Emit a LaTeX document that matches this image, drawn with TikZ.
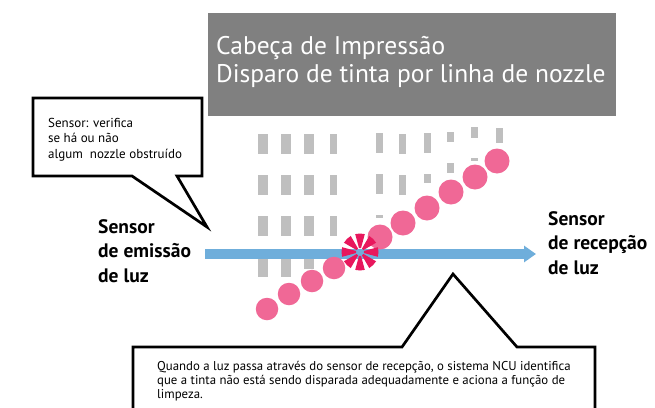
\documentclass[tikz,border=0pt]{standalone}
\usepackage{fontspec}
\setmainfont{PT Sans}
\usetikzlibrary{arrows.meta}
\definecolor{headgray}{RGB}{128,128,128}
\definecolor{nozgray}{RGB}{191,191,191}
\definecolor{inkpink}{RGB}{240,104,150}
\definecolor{burstpink}{RGB}{232,23,93}
\definecolor{lightblue}{RGB}{111,174,219}
\tikzset{
  nozzle/.style={fill=nozgray, draw=none},
  drop/.style={circle, fill=inkpink, draw=none, inner sep=0pt, minimum size=25pt},
  smalldrop/.style={circle, fill=inkpink, draw=none, inner sep=0pt, minimum size=22.5pt},
  bubble/.style={draw=black, fill=white, line width=2.7pt, line join=miter},
  bubbletext/.style={align=left, inner sep=0pt, anchor=base west},
  sensortext/.style={font=\fontsize{19.5}{24.5}\selectfont\bfseries, align=left, inner sep=0pt, anchor=base west},
  beam/.style={draw=lightblue, line width=9.5pt, -{Triangle[width=16pt,length=12pt]}},
}
\begin{document}
\begin{tikzpicture}[x=1pt,y=-1pt]
\useasboundingbox (0,0) rectangle (655,407);
% title box
\fill[headgray] (208,13) rectangle (616,116);
\node[font=\fontsize{25.5}{28}\selectfont, text=white, align=left, inner sep=0pt, anchor=base west] (title) at (216,82) {Cabeça de Impressão\\Disparo de tinta por linha de nozzle};
% nozzles
\foreach \x/\w in {258/10,281/10,304/10,330/7} {
  \fill[nozzle] (\x,134) rectangle ++(\w,20);
  \fill[nozzle] (\x,175) rectangle ++(\w,20);
  \fill[nozzle] (\x,216) rectangle ++(\w,20);
}
\fill[nozzle] (258,257) rectangle ++(10,20);
\fill[nozzle] (281,257) rectangle ++(10,20);
\fill[nozzle] (304,257) rectangle ++(10,12);
\fill[nozzle] (376,133) rectangle ++(7,20);
\fill[nozzle] (399,134) rectangle ++(7,20);
\fill[nozzle] (424,133) rectangle ++(7,20);
\fill[nozzle] (447,132) rectangle ++(7,10);
\fill[nozzle] (471,127) rectangle ++(7,11);
\fill[nozzle] (496,128) rectangle ++(7,15);
\fill[nozzle] (376,174) rectangle ++(7,20);
\fill[nozzle] (399,175) rectangle ++(7,20);
\fill[nozzle] (424,174) rectangle ++(7,9);
\fill[nozzle] (447,163) rectangle ++(7,10);
\fill[nozzle] (471,158) rectangle ++(7,3);
\fill[nozzle] (376,215) rectangle ++(7,3);
% light beam
\coordinate (emit) at (205,254);
\coordinate (recv) at (536,254);
\draw[beam] (emit) -- (recv);
% ink drops
\foreach \n/\x/\y in {d1/267/309,d2/289/294,d3/312/281,d4/334/268} {
  \node[smalldrop] (\n) at (\x,\y) {};
}
\foreach \n/\x/\y in {d5/380/237,d6/403/223,d7/427/208,d8/451/192,d9/475/177,d10/497/161} {
  \node[drop] (\n) at (\x,\y) {};
}
% burst
\coordinate (burst) at (360,252);
\foreach \a in {0,45,...,315} {
  \fill[burstpink, shift={(burst)}] (\a-15:4) -- (\a-15:18.5) arc[start angle=\a-15, end angle=\a+15, radius=18.5] -- (\a+15:4) arc[start angle=\a+15, end angle=\a-15, radius=4] -- cycle;
}
% sensor labels
\node[sensortext] (emitlabel) at (98,282) {Sensor\\de emissão\\de luz};
\node[sensortext] (recvlabel) at (548,274) {Sensor\\de recepção\\de luz};
% top speech bubble
\draw[bubble] (33,98) -- (202,98) -- (202,176) -- (177,176) -- (207,227) -- (132,176) -- (33,176) -- cycle;
\node[bubbletext, font=\fontsize{13}{15.5}\selectfont] (note1) at (48,158) {Sensor: verifica\\se há ou não\\algum\ \ nozzle obstruído};
% bottom speech bubble
\draw[bubble] (133,412) -- (133,347) -- (402,347) -- (453,274) -- (517,347) -- (595,347) -- (595,412);
\node[bubbletext, font=\fontsize{12.8}{14}\selectfont] (note2) at (157,398) {Quando a luz passa através do sensor de recepção, o sistema NCU identifica\\que a tinta não está sendo disparada adequadamente e aciona a função de\\limpeza.};
\end{tikzpicture}
\end{document}
